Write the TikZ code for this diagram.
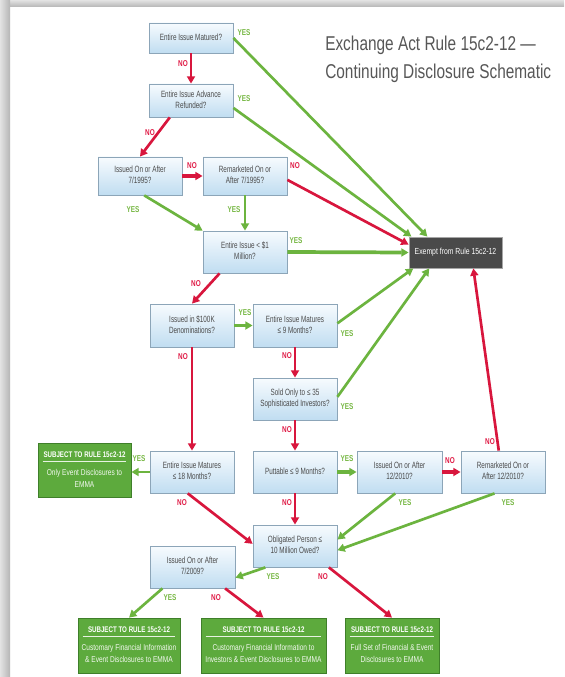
\documentclass[tikz,border=0pt]{standalone}
\usepackage{fontspec}
\setmainfont{Liberation Sans}
\usepackage{graphicx}
\usetikzlibrary{arrows.meta,calc}
\definecolor{grn}{HTML}{6CB43F}
\definecolor{rd}{HTML}{D8163D}
\definecolor{yescol}{HTML}{78B845}
\definecolor{nocol}{HTML}{E01E48}
\definecolor{qborder}{HTML}{8CA5B8}
\definecolor{qtop}{HTML}{F7FBFE}
\definecolor{qbot}{HTML}{C0DDF1}
\definecolor{qtext}{HTML}{4A4A4A}
\definecolor{gfill}{HTML}{5DAA3D}
\definecolor{gborder}{HTML}{3F7F2A}
\definecolor{exfill}{HTML}{4A4A4A}
\definecolor{titlegray}{HTML}{575757}
\newcommand\qf{\fontsize{6.8pt}{8.25pt}\selectfont}
\newcommand\gbf{\fontsize{6.4pt}{9pt}\selectfont}
\newcommand\sq[1]{\scalebox{0.7}[1]{\begin{tabular}{@{}c@{}}#1\end{tabular}}}
\newcommand\sgb[1]{\scalebox{0.77}[1]{\begin{tabular}{@{}c@{}}#1\end{tabular}}}
\newcommand\qb[6]{\node[qst, minimum width={(#4-#2)*0.75pt}, minimum height={(#5-#3)*0.75pt}] (#1) at ({(#2+#4)/2},{(#3+#5)/2}) {\sq{#6}};}
\newcommand\gb[7]{%
  \node[gst, minimum width={(#4-#2)*0.75pt}, minimum height={(#5-#3)*0.75pt}] (#1) at ({(#2+#4)/2},{(#3+#5)/2}) {};
  \node[ghead] (#1h) at ($(#1.north)+(0,12)$) {\scalebox{0.76}[1]{SUBJECT TO RULE 15c2-12}};
  \draw[white!85!gfill, line width=0.7pt] ($(#1.north west)+(5,19)$) -- ($(#1.north east)+(-5,19)$);
  \node[gbody] (#1b) at ($(#1.north)+(0,36)$) {\sgb{#6\\#7}};
}
\newcommand\lY[2]{\node[lbly] (#1) at (#2) {\scalebox{0.75}[1]{YES}};}
\newcommand\lN[2]{\node[lbln] (#1) at (#2) {\scalebox{0.75}[1]{NO}};}
\begin{document}
\begin{tikzpicture}[x=0.75pt,y=-0.75pt,
  qst/.style={draw=qborder, line width=0.6pt, top color=qtop, bottom color=qbot, inner sep=0pt, text=qtext, font=\qf},
  gst/.style={draw=gborder, line width=0.6pt, fill=gfill, inner sep=0pt},
  ghead/.style={inner sep=0pt, text=white, font=\fontsize{6.1pt}{7pt}\selectfont\bfseries},
  gbody/.style={inner sep=0pt, text=white!92!gfill, font=\gbf},
  exst/.style={draw=gray!70, line width=0.6pt, fill=exfill, inner sep=0pt, text=white, font=\fontsize{6.6pt}{7pt}\selectfont},
  gy/.style={draw=grn, line width=2pt, -{Triangle[length=5.5pt,width=6pt]}},
  rn/.style={draw=rd, line width=2pt, -{Triangle[length=5.5pt,width=6pt]}},
  thick arrow/.style={line width=2.8pt},
  lbly/.style={inner sep=0pt, text=yescol, font=\fontsize{6.4pt}{7pt}\selectfont\bfseries},
  lbln/.style={inner sep=0pt, text=nocol, font=\fontsize{6.4pt}{7pt}\selectfont\bfseries},
  ttl/.style={inner sep=0pt, anchor=base west, text=titlegray, font=\fontsize{15pt}{18pt}\selectfont}
]
\useasboundingbox (0,0) rectangle (564,677);
\fill[white] (0,0) rectangle (564,677);
\shade[top color=gray!22, bottom color=gray!58] (0,0) rectangle (564,7);
\shade[left color=gray!22, right color=gray!58] (0,0) rectangle (10,677);

% title
\node[ttl] (t1) at (325,51) {\scalebox{0.77}[1]{Exchange Act Rule 15c2-12 —}};
\node[ttl] (t2) at (325,79) {\scalebox{0.77}[1]{Continuing Disclosure Schematic}};

% question boxes
\qb{mat}{149}{23}{233}{53}{Entire Issue Matured?}
\qb{adv}{149}{84}{233}{117}{Entire Issue Advance\\Refunded?}
\qb{iss95}{98}{157}{182}{195}{Issued On or After\\7/1995?}
\qb{rem95}{203}{157}{287}{195}{Remarketed On or\\After 7/1995?}
\qb{lt1}{203}{231}{287}{273}{Entire Issue < \$1\\Million?}
\qb{k100}{150}{304}{234}{347}{Issued in \$100K\\Denominations?}
\qb{m9}{253}{304}{337}{347}{Entire Issue Matures\\≤ 9 Months?}
\qb{sold}{253}{378}{337}{420}{Sold Only to ≤ 35\\Sophisticated Investors?}
\qb{m18}{150}{451}{234}{493}{Entire Issue Matures\\≤ 18 Months?}
\qb{put}{253}{451}{337}{493}{Puttable ≤ 9 Months?}
\qb{i10}{357}{451}{442}{493}{Issued On or After\\12/2010?}
\qb{r10}{461}{451}{545}{493}{Remarketed On or\\After 12/2010?}
\qb{obl}{253}{525}{337}{567}{Obligated Person ≤\\10 Million Owed?}
\qb{i09}{150}{546}{235}{588}{Issued On or After\\7/2009?}

% exempt
\node[exst, minimum width={93*0.75pt}, minimum height={31*0.75pt}] (ex) at (455.5,252.5) {\scalebox{0.78}[1]{Exempt from Rule 15c2-12}};

% green result boxes
\gb{only}{38}{443}{131}{497}{Only Event Disclosures to}{EMMA}
\gb{b1}{78}{618}{180}{673}{Customary Financial Information}{\& Event Disclosures to EMMA}
\gb{b2}{201}{618}{326}{673}{Customary Financial Information to}{Investors \& Event Disclosures to EMMA}
\gb{b3}{345}{618}{439}{673}{Full Set of Financial \& Event}{Disclosures to EMMA}

% connectors
\draw[rn] (mat.south) -- (adv.north);
\draw[gy] (mat.east) -- ($(ex.north west)!0.2!(ex.north east)$);
\draw[gy] ($(adv.north east)!0.72!(adv.south east)$) -- ($(ex.north west)!0.03!(ex.north east)$);
\draw[rn] ($(adv.south west)!0.25!(adv.south east)$) -- (iss95.north);
\draw[rn, thick arrow] (iss95.east) -- (rem95.west);
\draw[rn] ($(rem95.north east)!0.6!(rem95.south east)$) -- ($(ex.north west)!0.25!(ex.south west)$);
\draw[gy] ($(iss95.south west)!0.55!(iss95.south east)$) -- (lt1.north west);
\draw[gy] (rem95.south) -- (lt1.north);
\draw[gy, thick arrow] (lt1.east) -- (ex.west);
\draw[rn] ($(lt1.south west)!0.2!(lt1.south east)$) -- (k100.north);
\draw[gy, thick arrow] (k100.east) -- (m9.west);
\draw[gy] ($(m9.north east)!0.45!(m9.south east)$) -- ($(ex.south west)!0.05!(ex.south east)$);
\draw[rn] (m9.south) -- (sold.north);
\draw[gy] ($(sold.north east)!0.45!(sold.south east)$) -- ($(ex.south west)!0.22!(ex.south east)$);
\draw[rn] (sold.south) -- (put.north);
\draw[rn] (k100.south) -- (m18.north);
\draw[gy] (m18.west) -- (m18.west -| only.east);
\draw[gy, thick arrow] (put.east) -- (i10.west);
\draw[rn, thick arrow] (i10.east) -- (r10.west);
\draw[rn] ($(r10.north west)!0.45!(r10.north east)$) -- ($(ex.south west)!0.69!(ex.south east)$);
\draw[rn] ($(m18.south west)!0.45!(m18.south east)$) -- ($(obl.north west)!0.45!(obl.south west)$);
\draw[rn] (put.south) -- (obl.north);
\draw[gy] ($(i10.south west)!0.45!(i10.south east)$) -- ($(obl.north east)!0.35!(obl.south east)$);
\draw[gy] ($(r10.south west)!0.4!(r10.south east)$) -- ($(obl.north east)!0.6!(obl.south east)$);
\draw[gy] ($(obl.south west)!0.15!(obl.south east)$) -- ($(i09.north east)!0.75!(i09.south east)$);
\draw[rn] ($(obl.south west)!0.9!(obl.south east)$) -- (b3.north);
\draw[gy] ($(i09.south west)!0.15!(i09.south east)$) -- (b1.north);
\draw[rn] ($(i09.south west)!0.88!(i09.south east)$) -- (b2.north);

% labels
\lY{y1}{244,33}
\lN{n1}{183,64}
\lY{y2}{244,99}
\lN{n2}{150,133}
\lN{n3}{192,166}
\lN{n4}{295,166}
\lY{y3}{133,210}
\lY{y4}{234,210}
\lY{y5}{296,241}
\lN{n5}{196,284}
\lY{y6}{245,313}
\lY{y7}{347,334}
\lN{n6}{287,356}
\lN{n7}{183,357}
\lY{y8}{347,407}
\lN{n8}{287,430}
\lY{y9}{139,459}
\lY{y10}{347,459}
\lN{n9}{450,461}
\lN{n10}{490,442}
\lN{n11}{182,503}
\lN{n12}{287,503}
\lY{y11}{405,503}
\lY{y12}{508,503}
\lY{y13}{273,577}
\lN{n13}{323,577}
\lY{y14}{170,598}
\lN{n14}{216,598}
\end{tikzpicture}
\end{document}
